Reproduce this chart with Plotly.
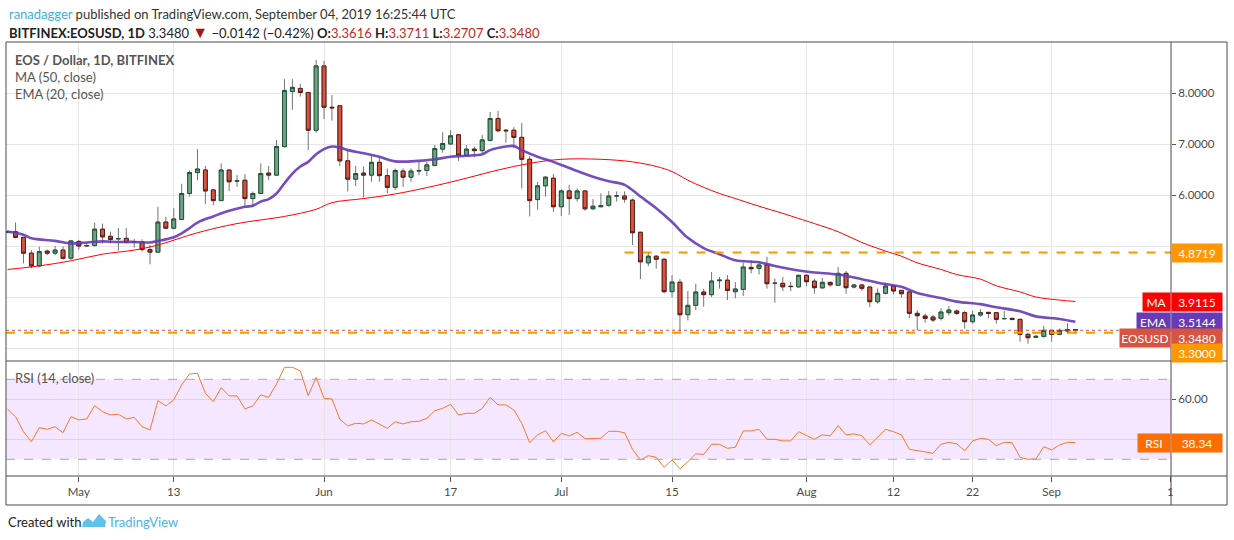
import pandas as pd
import plotly.graph_objects as go
from plotly.subplots import make_subplots

# ---- data (BITFINEX:EOSUSD daily, Apr 22 - Sep 4 2019) ----
first_day = "2019-04-22"
last_day = "2019-09-04"

opens = [5.27, 5.28, 5.17, 4.86, 4.61, 4.90, 4.86, 4.92, 4.76, 5.09,
         5.00, 5.01, 5.33, 5.19, 5.14, 5.15, 5.08, 5.08, 4.93, 4.88,
         5.47, 5.35, 5.52, 6.03, 6.44, 6.49, 6.10, 5.89, 6.49, 6.27,
         6.29, 5.93, 6.03, 6.43, 6.39, 6.95, 8.03, 8.09, 8.01, 7.27,
         8.53, 7.72, 7.75, 6.67, 6.31, 6.43, 6.39, 6.64, 6.38, 6.15,
         6.47, 6.35, 6.47, 6.48, 6.58, 6.90, 7.00, 7.18, 6.78, 6.90,
         6.87, 7.07, 7.50, 7.27, 7.27, 7.13, 6.70, 5.91, 6.18, 6.33,
         5.77, 6.08, 5.93, 6.08, 5.73, 5.77, 5.80, 5.98, 5.98, 5.90,
         5.27, 4.67, 4.80, 4.74, 4.105, 4.29, 3.653, 3.836, 4.098, 4.046,
         4.32, 4.33, 4.105, 4.15, 4.58, 4.562, 4.627, 4.268, 4.268, 4.21,
         4.20, 4.425, 4.31, 4.18, 4.287, 4.23, 4.464, 4.196, 4.235, 4.196,
         3.908, 4.072, 4.216, 4.13, 4.098, 3.68, 3.627, 3.607, 3.581, 3.693,
         3.725, 3.693, 3.516, 3.647, 3.699, 3.693, 3.575, 3.581, 3.562, 3.268,
         3.21, 3.228, 3.346, 3.268, 3.333, 3.3616]
highs = [5.31, 5.46, 5.17, 4.92, 4.99, 4.93, 5.00, 4.99, 5.12, 5.12,
         5.07, 5.46, 5.44, 5.28, 5.35, 5.35, 5.14, 5.13, 5.02, 5.77,
         5.57, 5.74, 6.22, 6.48, 6.90, 6.57, 6.10, 6.62, 6.49, 6.39,
         6.41, 6.07, 6.62, 6.57, 7.08, 8.27, 8.27, 8.18, 8.01, 8.65,
         8.63, 7.96, 7.75, 6.88, 6.57, 6.56, 6.78, 6.75, 6.52, 6.52,
         6.52, 6.52, 6.65, 6.65, 6.98, 7.23, 7.27, 7.20, 6.98, 6.95,
         7.18, 7.63, 7.65, 7.29, 7.33, 7.41, 6.76, 6.26, 6.37, 6.41,
         6.11, 6.20, 6.13, 6.08, 5.92, 6.03, 6.08, 6.07, 6.07, 5.93,
         5.27, 4.88, 4.82, 4.76, 4.43, 4.35, 4.118, 4.261, 4.163, 4.49,
         4.39, 4.43, 4.294, 4.673, 4.725, 4.706, 4.79, 4.36, 4.392, 4.294,
         4.44, 4.44, 4.36, 4.372, 4.30, 4.588, 4.51, 4.26, 4.26, 4.196,
         4.17, 4.281, 4.216, 4.14, 4.118, 3.738, 3.673, 3.647, 3.778, 3.824,
         3.758, 3.725, 3.725, 3.758, 3.699, 3.706, 3.725, 3.594, 3.575, 3.30,
         3.255, 3.431, 3.359, 3.385, 3.484, 3.3711]
lows = [5.25, 5.15, 4.66, 4.56, 4.58, 4.82, 4.82, 4.73, 4.73, 4.93,
        4.99, 4.99, 5.05, 5.05, 4.91, 5.05, 4.97, 4.89, 4.64, 4.87,
        5.33, 5.33, 5.51, 5.97, 6.29, 5.82, 5.80, 5.89, 6.08, 6.16,
        5.77, 5.77, 6.02, 6.29, 6.38, 6.93, 7.67, 7.93, 6.88, 7.22,
        7.49, 7.46, 6.57, 6.07, 6.18, 5.95, 6.26, 6.26, 6.03, 6.10,
        6.16, 6.26, 6.39, 6.37, 6.56, 6.83, 6.99, 6.67, 6.78, 6.74,
        6.82, 7.05, 7.23, 7.03, 6.92, 6.13, 5.58, 5.71, 5.97, 5.67,
        5.59, 5.61, 5.87, 5.69, 5.71, 5.76, 5.77, 5.87, 5.85, 5.02,
        4.35, 4.61, 4.556, 4.07, 3.99, 3.32, 3.542, 3.745, 3.81, 4.0,
        4.163, 3.94, 3.974, 4.02, 4.464, 4.444, 4.163, 3.89, 4.117, 4.117,
        4.18, 4.216, 4.065, 4.163, 4.2, 4.216, 4.065, 4.17, 4.118, 3.804,
        3.869, 4.052, 4.052, 3.987, 3.581, 3.346, 3.497, 3.51, 3.542, 3.641,
        3.647, 3.379, 3.477, 3.614, 3.581, 3.477, 3.562, 3.542, 3.124, 3.085,
        3.19, 3.202, 3.124, 3.255, 3.281, 3.2707]
closes = [5.28, 5.17, 4.86, 4.61, 4.89, 4.86, 4.92, 4.76, 5.10, 5.00,
          5.01, 5.33, 5.18, 5.13, 5.145, 5.07, 5.085, 4.93, 4.88, 5.47,
          5.35, 5.53, 6.03, 6.44, 6.51, 6.08, 5.89, 6.49, 6.26, 6.28,
          5.93, 6.03, 6.42, 6.39, 6.95, 8.05, 8.11, 8.01, 7.27, 8.53,
          7.72, 7.71, 6.67, 6.31, 6.42, 6.39, 6.64, 6.38, 6.15, 6.48,
          6.35, 6.47, 6.48, 6.59, 6.91, 7.01, 7.16, 6.78, 6.90, 6.87,
          7.08, 7.50, 7.26, 7.26, 7.13, 6.70, 5.89, 6.18, 6.35, 5.77,
          6.08, 5.93, 6.08, 5.73, 5.78, 5.79, 5.98, 5.985, 5.92, 5.26,
          4.69, 4.80, 4.74, 4.105, 4.294, 3.653, 3.836, 4.098, 4.046, 4.314,
          4.33, 4.13, 4.157, 4.588, 4.555, 4.627, 4.261, 4.27, 4.20, 4.205,
          4.425, 4.30, 4.183, 4.287, 4.24, 4.464, 4.183, 4.235, 4.17, 3.908,
          4.072, 4.216, 4.118, 4.065, 3.68, 3.634, 3.581, 3.549, 3.706, 3.745,
          3.68, 3.516, 3.647, 3.693, 3.68, 3.562, 3.578, 3.562, 3.268, 3.202,
          3.228, 3.346, 3.268, 3.346, 3.362, 3.348]

rsi = [55.0, 51.3, 43.8, 38.8, 45.8, 45.0, 46.3, 43.3, 51.3, 49.7,
       50.2, 56.8, 53.8, 52.2, 52.5, 50.2, 51.0, 46.3, 44.7, 59.3,
       56.7, 59.7, 67.2, 72.7, 73.0, 63.0, 58.8, 65.8, 61.7, 61.7,
       55.2, 56.7, 62.2, 61.0, 67.7, 76.0, 76.0, 74.2, 61.8, 71.0,
       60.5, 60.2, 50.0, 46.7, 48.0, 47.7, 49.7, 47.5, 45.5, 48.8,
       47.7, 48.8, 49.0, 50.5, 54.3, 55.5, 57.5, 52.2, 53.0, 53.0,
       55.5, 61.0, 57.2, 57.2, 54.7, 48.0, 38.3, 42.2, 44.3, 38.7,
       43.0, 41.7, 43.5, 40.3, 40.5, 40.5, 44.0, 44.0, 43.3, 35.0,
       29.7, 31.8, 31.0, 26.0, 29.7, 25.2, 28.8, 32.7, 32.5, 37.5,
       37.5, 35.5, 36.0, 44.2, 44.2, 45.0, 40.0, 40.0, 39.2, 39.2,
       43.8, 41.7, 40.0, 42.2, 41.7, 46.8, 42.2, 42.7, 41.8, 37.2,
       41.3, 45.0, 43.8, 42.2, 35.0, 34.2, 33.7, 33.0, 37.5, 38.5,
       37.7, 34.2, 39.2, 40.5, 40.0, 36.8, 38.5, 38.3, 31.0, 30.0,
       30.2, 36.3, 34.7, 37.2, 38.5, 38.34]

# moving averages, read at sample dates
ema_dates = ["2019-04-22", "2019-04-23", "2019-04-24", "2019-04-25", "2019-04-26", "2019-04-28",
             "2019-04-30", "2019-05-02", "2019-05-04", "2019-05-06", "2019-05-08", "2019-05-10",
             "2019-05-11", "2019-05-12", "2019-05-13", "2019-05-14", "2019-05-15", "2019-05-16",
             "2019-05-18", "2019-05-20", "2019-05-22", "2019-05-23", "2019-05-24", "2019-05-25",
             "2019-05-26", "2019-05-27", "2019-05-28", "2019-05-29", "2019-05-30", "2019-05-31",
             "2019-06-01", "2019-06-02", "2019-06-03", "2019-06-04", "2019-06-06", "2019-06-08",
             "2019-06-10", "2019-06-13", "2019-06-15", "2019-06-17", "2019-06-19", "2019-06-21",
             "2019-06-22", "2019-06-24", "2019-06-25", "2019-06-26", "2019-06-28", "2019-06-30",
             "2019-07-02", "2019-07-05", "2019-07-07", "2019-07-09", "2019-07-11", "2019-07-13",
             "2019-07-15", "2019-07-17", "2019-07-19", "2019-07-21", "2019-07-23", "2019-07-26",
             "2019-07-28", "2019-07-31", "2019-08-02", "2019-08-05", "2019-08-08", "2019-08-10",
             "2019-08-13", "2019-08-15", "2019-08-18", "2019-08-20", "2019-08-23", "2019-08-25",
             "2019-08-28", "2019-08-30", "2019-09-02", "2019-09-04"]
ema_vals = [5.28, 5.26, 5.22, 5.15, 5.13, 5.10,
            5.05, 5.07, 5.09, 5.08, 5.08, 5.07,
            5.10, 5.13, 5.17, 5.25, 5.35, 5.46,
            5.58, 5.69, 5.77, 5.79, 5.87, 5.92,
            6.03, 6.23, 6.42, 6.56, 6.65, 6.80,
            6.90, 6.95, 6.93, 6.88, 6.82, 6.75,
            6.66, 6.67, 6.70, 6.75, 6.77, 6.80,
            6.88, 6.95, 6.96, 6.88, 6.75, 6.65,
            6.53, 6.36, 6.27, 6.20, 5.97, 5.74,
            5.47, 5.16, 4.96, 4.84, 4.72, 4.68,
            4.61, 4.52, 4.48, 4.44, 4.35, 4.28,
            4.20, 4.08, 3.98, 3.91, 3.86, 3.80,
            3.72, 3.62, 3.57, 3.5144]

ma_dates = ["2019-04-22", "2019-04-26", "2019-04-30", "2019-05-04", "2019-05-08", "2019-05-11",
            "2019-05-16", "2019-05-21", "2019-05-27", "2019-05-31", "2019-06-02", "2019-06-06",
            "2019-06-10", "2019-06-15", "2019-06-19", "2019-06-23", "2019-06-27", "2019-07-01",
            "2019-07-06", "2019-07-10", "2019-07-13", "2019-07-15", "2019-07-17", "2019-07-19",
            "2019-07-21", "2019-07-23", "2019-07-26", "2019-07-29", "2019-07-31", "2019-08-02",
            "2019-08-05", "2019-08-08", "2019-08-11", "2019-08-13", "2019-08-15", "2019-08-18",
            "2019-08-20", "2019-08-23", "2019-08-25", "2019-08-28", "2019-08-30", "2019-09-02",
            "2019-09-04"]
ma_vals = [4.54, 4.61, 4.71, 4.84, 4.92, 5.02,
           5.26, 5.44, 5.58, 5.72, 5.85, 5.93,
           6.02, 6.18, 6.33, 6.49, 6.62, 6.70,
           6.70, 6.65, 6.56, 6.46, 6.29, 6.15,
           6.03, 5.93, 5.78, 5.64, 5.54, 5.44,
           5.28, 5.07, 4.90, 4.80, 4.67, 4.54,
           4.44, 4.35, 4.22, 4.10, 4.00, 3.94,
           3.9115]

resistance = 4.8719
resistance_from = "2019-07-09"
support = 3.3000

# axis ticks; the labels hidden behind the price tags on the reference are left blank
price_ticks = [3, 4, 5, 6, 7, 8]
price_labels = ["", "", "", "6.0000", "7.0000", "8.0000"]
rsi_ticks = [40, 60]
rsi_labels = ["", "60.00"]
time_ticks = ["2019-05-01", "2019-05-13", "2019-06-01", "2019-06-17", "2019-07-01", "2019-07-15",
              "2019-08-01", "2019-08-12", "2019-08-22", "2019-09-01", "2019-09-16"]
time_labels = ["May", "13", "Jun", "17", "Jul", "15", "Aug", "12", "22", "Sep", "1"]

# ---- styling ----
FONT = "Lato, 'Open Sans', sans-serif"
UP_FILL, UP_LINE = "#6ba583", "#225437"
DN_FILL, DN_LINE = "#d75442", "#5b1a13"
WICK = "#737375"
EMA_COL = "#673ab7"
MA_COL = "#ff0000"
ORANGE = "#ff9800"
RSI_COL = "#f7792b"
GRID = "#e6e6e6"
FRAME = "#4a4a4a"

# plot box in window pixels
PL, PR, PT, PB = 6, 1171, 42, 476


def px(x):
    return (x - PL) / (PR - PL)


def py(y):
    return (PB - y) / (PB - PT)


dates = pd.date_range(first_day, last_day, freq="D")
last_price = closes[-1]
body_hi = [max(o, c) for o, c in zip(opens, closes)]
body_lo = [min(o, c) for o, c in zip(opens, closes)]

fig = make_subplots(rows=2, cols=1, shared_xaxes=True)

# wicks first, bodies drawn on top so the wick stays grey
fig.add_trace(go.Candlestick(
    x=dates, open=opens, high=highs, low=lows, close=closes,
    increasing=dict(line=dict(color=WICK, width=1), fillcolor=WICK),
    decreasing=dict(line=dict(color=WICK, width=1), fillcolor=WICK),
    whiskerwidth=0, hoverinfo="skip", showlegend=False), row=1, col=1)
fig.add_trace(go.Candlestick(
    x=dates, open=opens, high=body_hi, low=body_lo, close=closes,
    increasing=dict(line=dict(color=UP_LINE, width=1), fillcolor=UP_FILL),
    decreasing=dict(line=dict(color=DN_LINE, width=1), fillcolor=DN_FILL),
    whiskerwidth=0, showlegend=False), row=1, col=1)

fig.add_trace(go.Scatter(x=ma_dates, y=ma_vals, mode="lines", line=dict(color=MA_COL, width=1, shape="spline"),
                         showlegend=False), row=1, col=1)
fig.add_trace(go.Scatter(x=ema_dates, y=ema_vals, mode="lines",
                         line=dict(color=EMA_COL, width=2.6, shape="spline"), opacity=0.9,
                         showlegend=False), row=1, col=1)
fig.add_trace(go.Scatter(x=dates, y=rsi, mode="lines", line=dict(color=RSI_COL, width=1),
                         showlegend=False), row=2, col=1)

x_range = ["2019-04-21 19:00", "2019-09-16 02:00"]
axis_font = dict(family=FONT, size=11.5, color="#4a4a4a")

fig.update_xaxes(range=x_range, tickvals=time_ticks, ticktext=time_labels, showgrid=True,
                 gridcolor=GRID, gridwidth=1, zeroline=False, rangeslider_visible=False,
                 showline=False, tickfont=axis_font)
fig.update_xaxes(showticklabels=False, ticks="", row=1, col=1)
fig.update_xaxes(ticks="outside", ticklen=5, tickcolor="#555", row=2, col=1)

fig.update_layout(
    width=1234, height=540,
    margin=dict(l=PL, r=1234 - PR, t=PT, b=540 - PB),
    paper_bgcolor="white", plot_bgcolor="white",
    font=dict(family=FONT, color="#333"),
    yaxis=dict(domain=[py(360), 1], range=[2.765, 9.0], side="right", tickvals=price_ticks,
               ticktext=price_labels, showgrid=True, gridcolor=GRID, zeroline=False,
               ticks="outside", ticklen=4, tickcolor="#555", tickfont=axis_font),
    yaxis2=dict(domain=[0, py(362)], range=[21.65, 78.65], side="right", tickvals=rsi_ticks,
                ticktext=rsi_labels, showgrid=True, gridcolor="#ddd2ea", zeroline=False,
                ticks="outside", ticklen=4, tickcolor="#555", tickfont=axis_font),
    hovermode=False,
)

shapes = [
    # RSI band and bounds
    dict(type="rect", xref="paper", x0=0, x1=1, yref="y2", y0=30, y1=70,
         fillcolor="rgba(153,21,255,0.1)", line=dict(width=0), layer="below"),
    dict(type="line", xref="paper", x0=0, x1=1, yref="y2", y0=70, y1=70,
         line=dict(color="#a9a9a9", width=1, dash="dash")),
    dict(type="line", xref="paper", x0=0, x1=1, yref="y2", y0=30, y1=30,
         line=dict(color="#a9a9a9", width=1, dash="dash")),
    # drawn levels
    dict(type="line", xref="x", x0=resistance_from, x1=x_range[1], yref="y", y0=resistance, y1=resistance,
         line=dict(color=ORANGE, width=2, dash="dash")),
    dict(type="line", xref="paper", x0=0, x1=1, yref="y", y0=support, y1=support,
         line=dict(color=ORANGE, width=2, dash="dash")),
    dict(type="line", xref="paper", x0=0, x1=1, yref="y", y0=last_price, y1=last_price,
         line=dict(color=DN_FILL, width=1, dash="dot")),
    # frame
    dict(type="rect", xref="paper", yref="paper", x0=0, x1=px(1227), y0=py(505), y1=1,
         line=dict(color=FRAME, width=1)),
    dict(type="line", xref="paper", yref="paper", x0=1, x1=1, y0=py(505), y1=1,
         line=dict(color=FRAME, width=1)),
    dict(type="line", xref="paper", yref="paper", x0=0, x1=px(1227), y0=0, y1=0,
         line=dict(color=FRAME, width=1)),
    dict(type="line", xref="paper", yref="paper", x0=0, x1=px(1227), y0=py(361), y1=py(361),
         line=dict(color=FRAME, width=1)),
    # TradingView logo mark
    dict(type="path", xref="paper", yref="paper", fillcolor="#5ec2ec", line=dict(width=0),
         path="M {} {} L {} {} L {} {} L {} {} L {} {} L {} {} L {} {} Z".format(
             px(82), py(527), px(83), py(522), px(88), py(518), px(93), py(522),
             px(99), py(514), px(106), py(521), px(105), py(527))),
]
fig.update_layout(shapes=shapes)


def tag(text, y, color, left=False, yshift=0, width=46, yref="y"):
    return dict(text=text, xref="paper", x=1, xanchor="right" if left else "left",
                yref=yref, y=y, yanchor="middle", yshift=yshift, showarrow=False,
                bgcolor=color, width=width, height=14, borderpad=2,
                font=dict(family=FONT, size=12, color="white"))


red_txt = "#c62828"
header2 = ("<b>BITFINEX:EOSUSD, 1D</b> {:.4f} <span style='color:#a51515;font-size:16px'>▼</span> −0.0142 (−0.42%) "
           "<b>O:</b><span style='color:{r}'>{:.4f}</span> <b>H:</b><span style='color:{r}'>{:.4f}</span> "
           "<b>L:</b><span style='color:{r}'>{:.4f}</span> <b>C:</b><span style='color:{r}'>{:.4f}</span>"
           ).format(last_price, opens[-1], highs[-1], lows[-1], last_price, r=red_txt)

annotations = [
    dict(text="<span style='color:#3bb3e4'>ranadagger</span> published on TradingView.com, September 04, 2019 16:25:44 UTC",
         xref="paper", yref="paper", x=px(7), y=py(14), xanchor="left", yanchor="middle",
         showarrow=False, font=dict(family=FONT, size=13, color="#333")),
    dict(text=header2, xref="paper", yref="paper", x=px(7), y=py(32), xanchor="left", yanchor="middle",
         showarrow=False, font=dict(family=FONT, size=13, color="#222")),
    dict(text="<b>EOS / Dollar, 1D, BITFINEX</b>", xref="paper", yref="paper", x=px(13), y=py(60),
         xanchor="left", yanchor="middle", showarrow=False, font=dict(family=FONT, size=13, color="#555")),
    dict(text="MA (50, close)", xref="paper", yref="paper", x=px(13), y=py(77),
         xanchor="left", yanchor="middle", showarrow=False, font=dict(family=FONT, size=13, color="#555")),
    dict(text="EMA (20, close)", xref="paper", yref="paper", x=px(13), y=py(94),
         xanchor="left", yanchor="middle", showarrow=False, font=dict(family=FONT, size=13, color="#555")),
    dict(text="RSI (14, close)", xref="paper", yref="paper", x=px(13), y=py(378),
         xanchor="left", yanchor="middle", showarrow=False, font=dict(family=FONT, size=13, color="#555")),
    dict(text="Created with", xref="paper", yref="paper", x=px(6), y=py(522),
         xanchor="left", yanchor="middle", showarrow=False, font=dict(family=FONT, size=13, color="#222")),
    dict(text="TradingView", xref="paper", yref="paper", x=px(106), y=py(522),
         xanchor="left", yanchor="middle", showarrow=False, font=dict(family=FONT, size=13, color="#4bb3e8")),
    # right-hand price tags
    tag("{:.4f}".format(resistance), resistance, ORANGE),
    tag("MA", ma_vals[-1], MA_COL, left=True, width=23),
    tag("{:.4f}".format(ma_vals[-1]), ma_vals[-1], MA_COL),
    tag("EMA", ema_vals[-1], EMA_COL, left=True, width=29),
    tag("{:.4f}".format(ema_vals[-1]), ema_vals[-1], EMA_COL),
    tag("EOSUSD", last_price, DN_FILL, left=True, yshift=-8, width=46),
    tag("{:.4f}".format(last_price), last_price, DN_FILL, yshift=-8),
    tag("{:.4f}".format(support), support, ORANGE, yshift=-20),
    tag("RSI", rsi[-1], "#ff6d00", left=True, width=28, yref="y2"),
    tag("{:.2f}".format(rsi[-1]), rsi[-1], "#ff6d00", yref="y2"),
]
fig.update_layout(annotations=annotations)

# the page body has a default 8px margin; drop it so the chart sits at the window corner
fig.write_html("out.html", config={"displayModeBar": False},
               post_script="document.body.style.margin='0';document.body.style.overflow='hidden';")
